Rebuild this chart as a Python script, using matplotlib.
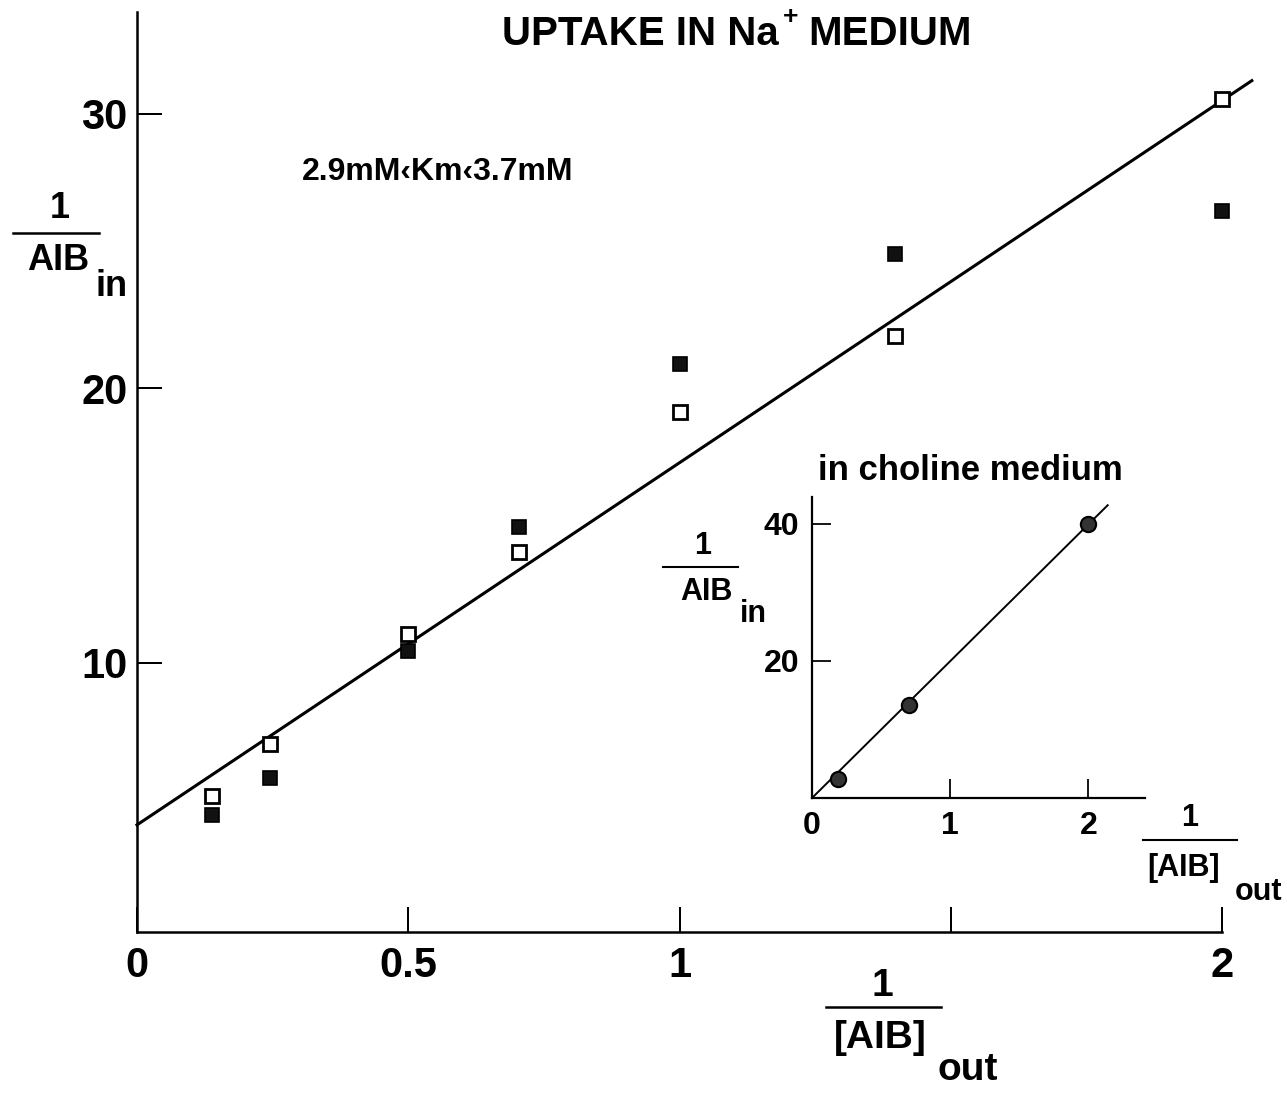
import matplotlib
matplotlib.use('Agg')
import matplotlib.pyplot as plt
from matplotlib.lines import Line2D

plt.rcParams['font.family'] = ['Liberation Sans', 'DejaVu Sans']
plt.rcParams['font.weight'] = 'bold'

W, H = 1287, 1093

# ------------------------------------------------------------------------------
# uptake in Na+ medium (1/[AIB]out vs 1/AIB_in)
inv_out = [0.138, 0.246, 0.5, 0.704, 1.0, 1.398, 2.0]
inv_in_open = [5.15, 7.05, 11.05, 14.05, 19.15, 21.9, 30.55]
inv_in_filled = [4.45, 5.8, 10.45, 14.95, 20.9, 24.9, 26.45]
fit_x = [0.0, 2.055]
fit_y = [4.1, 31.2]

main_xticks = [0, 0.5, 1, 1.5, 2]
main_xticklabels = ['0', '0.5', '1', '', '2']
main_yticks = [10, 20, 30]

# inset: uptake in choline medium
choline_x = [0.19, 0.70, 2.0]
choline_y = [2.8, 13.6, 40.0]
choline_fit_x = [0.0, 2.14]
choline_fit_y = [0.0, 42.7]

inset_xticks = [0, 1, 2]
inset_yticks = [20, 40]


# ------------------------------------------------------------------------------
def ftext(fig, x, y, s, **kw):
    # place text using pixel coordinates of the figure (origin top left)
    fig.text(x / W, 1 - y / H, s, **kw)


def fline(fig, x0, x1, y, lw=1.6):
    fig.add_artist(Line2D([x0 / W, x1 / W], [1 - y / H, 1 - y / H],
                          transform=fig.transFigure, color='black', lw=lw))


def axes_px(fig, left, right, top, bottom):
    return fig.add_axes([left / W, 1 - bottom / H,
                         (right - left) / W, (bottom - top) / H])


def style_axes(ax, lw, tick_len, fs, pad):
    for side in ('top', 'right'):
        ax.spines[side].set_visible(False)
    for side in ('left', 'bottom'):
        ax.spines[side].set_linewidth(lw)
    ax.tick_params(direction='in', length=tick_len, width=lw * 0.8,
                   labelsize=fs, pad=pad)
    ax.set_facecolor('none')


# ------------------------------------------------------------------------------
fig = plt.figure(figsize=(W / 100., H / 100.), dpi=100)

ax = axes_px(fig, 137, 1222, 12, 932)
ax.plot(fit_x, fit_y, color='black', lw=2.2, clip_on=False, zorder=2)
ax.plot(inv_out, inv_in_open, linestyle='none', marker='s', markersize=9.5,
        markerfacecolor='white', markeredgecolor='black', markeredgewidth=2.0,
        clip_on=False, zorder=3)
ax.plot(inv_out, inv_in_filled, linestyle='none', marker='s', markersize=9.5,
        markerfacecolor='#111111', markeredgecolor='black', markeredgewidth=1.2,
        clip_on=False, zorder=3)
ax.set_xlim(0, 2)
ax.set_ylim(0.2, 33.7)
ax.set_xticks(main_xticks)
ax.set_xticklabels(main_xticklabels)
ax.set_yticks(main_yticks)
style_axes(ax, 1.8, 18, 30, 7)
ax.tick_params(axis='x', pad=10)

# inset
ins = axes_px(fig, 812, 1145, 497, 798)
ins.plot(choline_fit_x, choline_fit_y, color='black', lw=1.4, clip_on=False)
ins.plot(choline_x, choline_y, linestyle='none', marker='o', markersize=11,
         markerfacecolor='#333333', markeredgecolor='black',
         markeredgewidth=1.5, clip_on=False)
ins.set_xlim(0, 2.41)
ins.set_ylim(0, 43.9)
ins.set_xticks(inset_xticks)
ins.set_yticks(inset_yticks)
style_axes(ins, 1.6, 14, 23, 9)

# title and annotations
ftext(fig, 779, 34, 'UPTAKE IN Na', ha='right', va='center', fontsize=29)
ftext(fig, 791, 17, '+', ha='center', va='center', fontsize=19)
ftext(fig, 808, 34, 'MEDIUM', ha='left', va='center', fontsize=29)
ftext(fig, 302, 172, '2.9mM\u2039Km\u20393.7mM', ha='left', va='center',
      fontsize=23)

# main y label
ftext(fig, 60, 208, '1', ha='center', va='center', fontsize=26)
fline(fig, 13, 99, 233, lw=1.8)
ftext(fig, 58, 260, 'AIB', ha='center', va='center', fontsize=26)
ftext(fig, 112, 286, 'in', ha='center', va='center', fontsize=26)

# main x label
ftext(fig, 882, 986, '1', ha='center', va='center', fontsize=28)
fline(fig, 826, 941, 1007, lw=1.8)
ftext(fig, 880, 1038, '[AIB]', ha='center', va='center', fontsize=28)
ftext(fig, 968, 1070, 'out', ha='center', va='center', fontsize=28)

# inset labels
ftext(fig, 970, 470, 'in choline medium', ha='center', va='center',
      fontsize=25)
ftext(fig, 703, 546, '1', ha='center', va='center', fontsize=22)
fline(fig, 663, 738, 567, lw=1.5)
ftext(fig, 706, 592, 'AIB', ha='center', va='center', fontsize=22)
ftext(fig, 753, 614, 'in', ha='center', va='center', fontsize=22)

ftext(fig, 1190, 818, '1', ha='center', va='center', fontsize=22)
fline(fig, 1143, 1237, 840, lw=1.5)
ftext(fig, 1184, 868, '[AIB]', ha='center', va='center', fontsize=22)
ftext(fig, 1258, 892, 'out', ha='center', va='center', fontsize=22)

fig.savefig('out.png', dpi=100)
